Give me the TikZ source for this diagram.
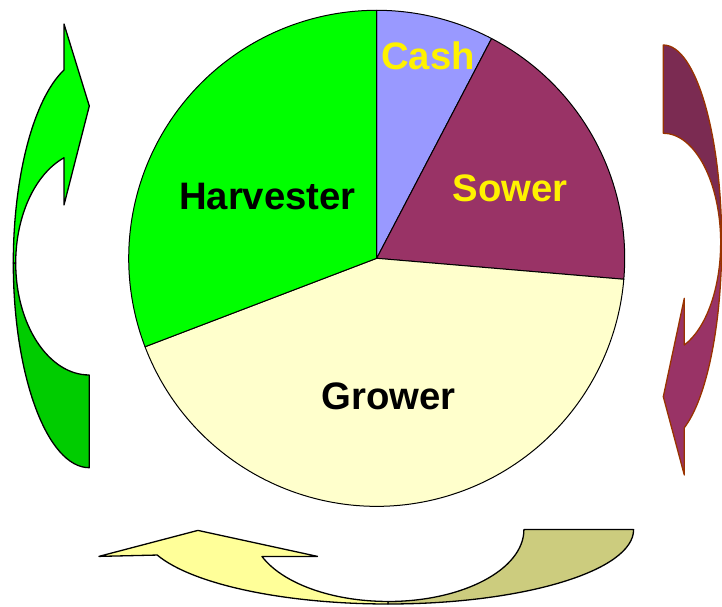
\documentclass[tikz,border=0pt]{standalone}
\usepackage{fontspec}
\setmainfont{Liberation Sans}
\definecolor{cashc}{HTML}{9999FF}
\definecolor{sowerc}{HTML}{993366}
\definecolor{growerc}{HTML}{FFFFCC}
\definecolor{harvc}{HTML}{00FF00}
\definecolor{gfront}{HTML}{00FF00}
\definecolor{gback}{HTML}{00CC00}
\definecolor{pfront}{HTML}{993366}
\definecolor{pback}{HTML}{7B2B52}
\definecolor{pline}{HTML}{993300}
\definecolor{yfront}{HTML}{FFFF99}
\definecolor{yback}{HTML}{CCCC7E}
\tikzset{
  slice/.style={draw=black,line width=1pt,line join=round},
  garrow/.style={draw=black,line width=1.3pt,line join=round},
  parrow/.style={draw=pline,line width=1.3pt,line join=round},
  yarrow/.style={draw=black,line width=1.3pt,line join=round},
  lbl/.style={font=\fontsize{38.3}{40}\selectfont\bfseries,anchor=base,inner sep=0pt}
}
\begin{document}
\begin{tikzpicture}[x=1pt,y=1pt]
\useasboundingbox (0,0) rectangle (722,607);
% pie
\coordinate (C) at (376.7,348.7);
\def\R{248}
\filldraw[slice,fill=cashc] (C) -- ++(62.4:\R) arc[start angle=62.4,end angle=90,radius=\R] -- cycle;
\filldraw[slice,fill=sowerc] (C) -- ++(-4.85:\R) arc[start angle=-4.85,end angle=62.4,radius=\R] -- cycle;
\filldraw[slice,fill=growerc] (C) -- ++(200.9:\R) arc[start angle=200.9,end angle=355.15,radius=\R] -- cycle;
\filldraw[slice,fill=harvc] (C) -- ++(90:\R) arc[start angle=90,end angle=200.9,radius=\R] -- cycle;
\node[lbl,text=yellow] (cash) at (428,537) {Cash};
\node[lbl,text=yellow] (sower) at (510,405.3) {Sower};
\node[lbl,text=black] (harv) at (267.5,397.7) {Harvester};
\node[lbl,text=black] (grower) at (388.5,197.7) {Grower};
% left green arrow
\filldraw[garrow,fill=gback] (13.3,344) arc[start angle=180,end angle=270,x radius=76,y radius=204.7]
  -- (89.3,232) arc[start angle=270,end angle=180,x radius=73.6,y radius=112] -- cycle;
\filldraw[garrow,fill=gfront] (64,537) -- (64,583) -- (89.3,501) -- (64,402) -- (64,449.2)
  arc[start angle=110.1,end angle=180,x radius=73.6,y radius=112]
  -- (13.3,344) arc[start angle=180,end angle=109.5,x radius=76,y radius=204.7] -- cycle;
% right purple arrow
\filldraw[parrow,fill=pback] (663.3,562) arc[start angle=90,end angle=0,x radius=58.4,y radius=198]
  -- (720.7,364) arc[start angle=0,end angle=90,x radius=57.4,y radius=109.7] -- cycle;
\filldraw[parrow,fill=pfront] (721.7,364) arc[start angle=0,end angle=-68.9,x radius=58.4,y radius=198]
  -- (684.3,132) -- (663.3,210.3) -- (684.3,308.7) -- (684.3,262)
  arc[start angle=-68.5,end angle=0,x radius=57.4,y radius=109.7] -- cycle;
% bottom yellow arrow
\filldraw[yarrow,fill=yback] (388,3) arc[start angle=270,end angle=360,x radius=245.6,y radius=74.4]
  -- (523.9,77.4) arc[start angle=0,end angle=-90,x radius=135.9,y radius=71.9] -- cycle;
\filldraw[yarrow,fill=yfront] (98.9,50.6) -- (197.9,76.6) -- (317.5,50.6) -- (262,50.5)
  arc[start angle=202,end angle=270,x radius=135.9,y radius=71.9]
  -- (388,3) arc[start angle=270,end angle=200,x radius=245.6,y radius=74.4] -- cycle;
\end{tikzpicture}
\end{document}
